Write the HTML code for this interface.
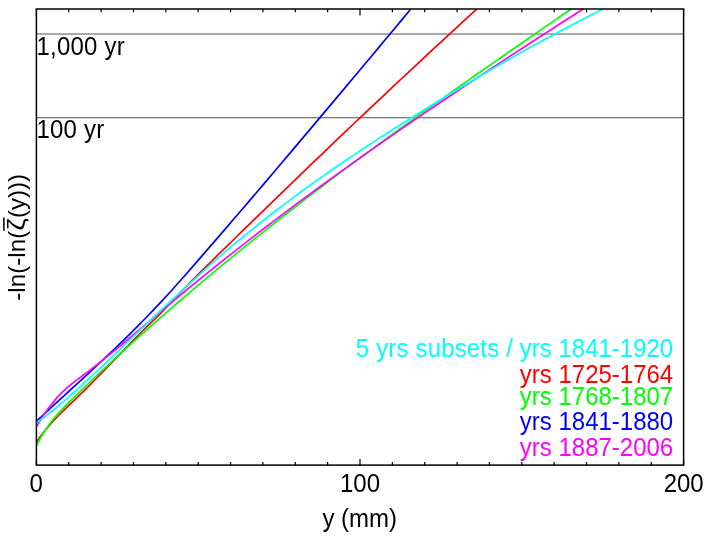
<!DOCTYPE html>
<html><head><meta charset="utf-8"><title>plot</title>
<style>
html,body{margin:0;padding:0;background:#fff;}
body{width:708px;height:536px;overflow:hidden;}
svg{display:block;will-change:transform;}
text{font-family:"Liberation Sans",sans-serif;font-size:24px;}
</style></head><body>
<svg width="708" height="536" viewBox="0 0 708 536">
<rect width="708" height="536" fill="#fff"/>
<line x1="36.4" y1="34.03" x2="683.6" y2="34.03" stroke="#000" stroke-width="0.68"/>
<line x1="36.4" y1="117.76" x2="683.6" y2="117.76" stroke="#000" stroke-width="0.68"/>
<text transform="translate(36.5,54.7) scale(1,1.05)" text-anchor="start" fill="#000" xml:space="preserve" letter-spacing="0.22">1,000 yr</text>
<text transform="translate(36.5,137.7) scale(1,1.05)" text-anchor="start" fill="#000" xml:space="preserve" letter-spacing="0.22">100 yr</text>
<g fill="none" stroke-width="1.7" stroke-linejoin="round">
<path stroke="#ff0000" d="M36.50,442.04 L38.00,439.87 L39.50,437.77 L41.00,435.74 L42.50,433.76 L44.00,431.83 L45.50,429.96 L47.00,428.14 L48.50,426.37 L50.00,424.63 L51.50,422.94 L53.00,421.29 L54.50,419.67 L56.00,418.09 L57.50,416.53 L59.00,415.00 L60.00,413.99 L64.00,410.05 L68.00,406.20 L72.00,402.39 L76.00,398.56 L80.00,394.69 L84.00,390.77 L88.00,386.80 L92.00,382.80 L96.00,378.77 L100.00,374.70 L104.00,370.61 L108.00,366.49 L112.00,362.36 L116.00,358.20 L120.00,354.04 L124.00,349.87 L128.00,345.72 L130.00,343.65 L138.00,335.49 L146.00,327.62 L154.00,319.99 L162.00,311.93 L170.00,303.44 L178.00,295.02 L186.00,286.78 L194.00,278.70 L202.00,270.72 L210.00,262.83 L218.00,254.96 L226.00,247.10 L234.00,239.26 L242.00,231.44 L250.00,223.63 L258.00,215.83 L266.00,208.05 L274.00,200.29 L282.00,192.54 L290.00,184.80 L298.00,177.08 L306.00,169.38 L314.00,161.69 L322.00,154.02 L330.00,146.36 L338.00,138.73 L346.00,131.11 L354.00,123.50 L362.00,115.91 L370.00,108.35 L378.00,100.79 L386.00,93.26 L394.00,85.74 L402.00,78.25 L410.00,70.77 L418.00,63.31 L426.00,55.87 L434.00,48.44 L442.00,41.04 L450.00,33.66 L458.00,26.29 L466.00,18.95 L474.00,11.63 L476.80,9.07"/>
<path stroke="#00ff00" d="M36.50,445.77 L38.00,442.76 L39.50,439.92 L41.00,437.22 L42.50,434.65 L44.00,432.21 L45.50,429.89 L47.00,427.67 L48.50,425.56 L50.00,423.52 L51.50,421.57 L53.00,419.68 L54.50,417.86 L56.00,416.09 L57.50,414.37 L59.00,412.69 L60.00,411.60 L64.00,407.38 L68.00,403.35 L72.00,399.43 L76.00,395.54 L80.00,391.68 L84.00,387.83 L88.00,384.00 L92.00,380.19 L96.00,376.40 L100.00,372.63 L104.00,368.88 L108.00,365.14 L112.00,361.42 L116.00,357.73 L120.00,354.05 L124.00,350.38 L128.00,346.74 L130.00,344.92 L138.00,337.69 L146.00,330.53 L154.00,323.43 L162.00,316.40 L170.00,309.42 L178.00,302.50 L186.00,295.64 L194.00,288.83 L202.00,282.08 L210.00,275.37 L218.00,268.72 L226.00,262.13 L234.00,255.57 L242.00,249.07 L250.00,242.62 L258.00,236.21 L266.00,229.84 L274.00,223.52 L282.00,217.25 L290.00,211.01 L298.00,204.81 L306.00,198.65 L314.00,192.53 L322.00,186.45 L330.00,180.40 L338.00,174.39 L346.00,168.41 L354.00,162.46 L362.00,156.54 L370.00,150.66 L378.00,144.80 L386.00,138.97 L394.00,133.16 L402.00,127.38 L410.00,121.63 L418.00,115.89 L426.00,110.18 L434.00,104.49 L442.00,98.82 L450.00,93.17 L458.00,87.54 L466.00,81.92 L474.00,76.31 L482.00,70.72 L490.00,65.14 L498.00,59.58 L506.00,54.02 L514.00,48.47 L522.00,42.93 L530.00,37.40 L538.00,31.88 L546.00,26.35 L554.00,20.84 L562.00,15.32 L570.00,9.80 L571.60,8.70"/>
<path stroke="#0000ff" d="M36.50,421.22 L38.00,419.81 L39.50,418.40 L41.00,417.00 L42.50,415.60 L44.00,414.20 L45.50,412.81 L47.00,411.42 L48.50,410.03 L50.00,408.64 L51.50,407.25 L53.00,405.87 L54.50,404.49 L56.00,403.11 L57.50,401.73 L59.00,400.35 L60.00,399.44 L64.00,395.77 L68.00,392.11 L72.00,388.45 L76.00,384.79 L80.00,381.13 L84.00,377.46 L88.00,373.78 L92.00,370.09 L96.00,366.38 L100.00,362.66 L104.00,358.91 L108.00,355.14 L112.00,351.35 L116.00,347.53 L120.00,343.67 L124.00,339.79 L128.00,335.87 L130.00,333.89 L138.00,325.91 L146.00,317.76 L154.00,309.44 L162.00,300.93 L170.00,292.21 L178.00,283.30 L186.00,274.25 L194.00,265.09 L202.00,255.88 L210.00,246.65 L218.00,237.39 L226.00,228.10 L234.00,218.80 L242.00,209.47 L250.00,200.12 L258.00,190.75 L266.00,181.36 L274.00,171.95 L282.00,162.53 L290.00,153.08 L298.00,143.63 L306.00,134.15 L314.00,124.67 L322.00,115.17 L330.00,105.65 L338.00,96.13 L346.00,86.59 L354.00,77.04 L362.00,67.49 L370.00,57.93 L378.00,48.35 L386.00,38.78 L394.00,29.19 L402.00,19.60 L410.00,10.01 L410.70,9.17"/>
<path stroke="#ff00ff" d="M36.50,426.57 L38.00,424.05 L39.50,421.59 L41.00,419.21 L42.50,416.88 L44.00,414.63 L45.50,412.43 L47.00,410.31 L48.50,408.24 L50.00,406.24 L51.50,404.30 L53.00,402.43 L54.50,400.62 L56.00,398.87 L57.50,397.18 L59.00,395.55 L60.00,394.50 L64.00,390.55 L68.00,386.97 L72.00,383.68 L76.00,380.59 L80.00,377.61 L84.00,374.66 L88.00,371.66 L92.00,368.61 L96.00,365.52 L100.00,362.37 L104.00,359.18 L108.00,355.96 L112.00,352.70 L116.00,349.40 L120.00,346.08 L124.00,342.74 L128.00,339.37 L130.00,337.68 L138.00,330.90 L146.00,324.09 L154.00,317.28 L162.00,310.50 L170.00,303.77 L178.00,297.10 L186.00,290.48 L194.00,283.92 L202.00,277.40 L210.00,270.94 L218.00,264.53 L226.00,258.16 L234.00,251.84 L242.00,245.57 L250.00,239.35 L258.00,233.17 L266.00,227.03 L274.00,220.94 L282.00,214.89 L290.00,208.88 L298.00,202.91 L306.00,196.98 L314.00,191.09 L322.00,185.24 L330.00,179.42 L338.00,173.64 L346.00,167.89 L354.00,162.18 L362.00,156.50 L370.00,150.85 L378.00,145.24 L386.00,139.65 L394.00,134.09 L402.00,128.57 L410.00,123.06 L418.00,117.59 L426.00,112.14 L434.00,106.72 L442.00,101.32 L450.00,95.94 L458.00,90.59 L466.00,85.25 L474.00,79.94 L482.00,74.64 L490.00,69.37 L498.00,64.11 L506.00,58.86 L514.00,53.64 L522.00,48.43 L530.00,43.23 L538.00,38.04 L546.00,32.87 L554.00,27.70 L562.00,22.55 L570.00,17.41 L578.00,12.27 L583.50,8.74"/>
<path stroke="#00ffff" d="M36.50,422.83 L38.00,421.76 L39.50,420.68 L41.00,419.59 L42.50,418.48 L44.00,417.35 L45.50,416.20 L47.00,415.05 L48.50,413.87 L50.00,412.69 L51.50,411.49 L53.00,410.28 L54.50,409.05 L56.00,407.81 L57.50,406.57 L59.00,405.31 L60.00,404.46 L64.00,401.04 L68.00,397.55 L72.00,394.00 L76.00,390.41 L80.00,386.77 L84.00,383.11 L88.00,379.43 L92.00,375.72 L96.00,372.00 L100.00,368.26 L104.00,364.50 L108.00,360.73 L112.00,356.95 L116.00,353.16 L120.00,349.36 L124.00,345.55 L128.00,341.74 L130.00,339.83 L138.00,332.20 L146.00,324.57 L154.00,316.95 L162.00,309.35 L170.00,301.80 L178.00,294.31 L186.00,286.88 L194.00,279.53 L202.00,272.27 L210.00,265.12 L218.00,258.09 L226.00,251.18 L234.00,244.40 L242.00,237.74 L250.00,231.20 L258.00,224.76 L266.00,218.44 L274.00,212.22 L282.00,206.10 L290.00,200.08 L298.00,194.15 L306.00,188.30 L314.00,182.55 L322.00,176.87 L330.00,171.28 L338.00,165.75 L346.00,160.30 L354.00,154.91 L362.00,149.58 L370.00,144.31 L378.00,139.10 L386.00,133.93 L394.00,128.81 L402.00,123.73 L410.00,118.70 L418.00,113.69 L426.00,108.73 L434.00,103.79 L442.00,98.90 L450.00,94.04 L458.00,89.22 L466.00,84.43 L474.00,79.69 L482.00,74.98 L490.00,70.32 L498.00,65.69 L506.00,61.11 L514.00,56.57 L522.00,52.07 L530.00,47.61 L538.00,43.19 L546.00,38.82 L554.00,34.50 L562.00,30.22 L570.00,25.98 L578.00,21.79 L586.00,17.65 L594.00,13.56 L602.00,9.51 L602.70,9.16"/>
</g>
<path d="M36.40,465.15 V459.0 M36.40,9.0 V15.4 M68.76,465.15 V462.0 M68.76,9.0 V12.2 M101.12,465.15 V462.0 M101.12,9.0 V12.2 M133.48,465.15 V462.0 M133.48,9.0 V12.2 M165.84,465.15 V462.0 M165.84,9.0 V12.2 M198.20,465.15 V462.0 M198.20,9.0 V12.2 M230.56,465.15 V462.0 M230.56,9.0 V12.2 M262.92,465.15 V462.0 M262.92,9.0 V12.2 M295.28,465.15 V462.0 M295.28,9.0 V12.2 M327.64,465.15 V462.0 M327.64,9.0 V12.2 M360.00,465.15 V459.0 M360.00,9.0 V15.4 M392.36,465.15 V462.0 M392.36,9.0 V12.2 M424.72,465.15 V462.0 M424.72,9.0 V12.2 M457.08,465.15 V462.0 M457.08,9.0 V12.2 M489.44,465.15 V462.0 M489.44,9.0 V12.2 M521.80,465.15 V462.0 M521.80,9.0 V12.2 M554.16,465.15 V462.0 M554.16,9.0 V12.2 M586.52,465.15 V462.0 M586.52,9.0 V12.2 M618.88,465.15 V462.0 M618.88,9.0 V12.2 M651.24,465.15 V462.0 M651.24,9.0 V12.2 M683.60,465.15 V459.0 M683.60,9.0 V15.4" stroke="#000" stroke-width="1.2" fill="none"/>
<rect x="36.4" y="9.0" width="647.2" height="456.1" fill="none" stroke="#000" stroke-width="1.5"/>
<text transform="translate(673.2,357.2) scale(1,1.05)" text-anchor="end" fill="#00ffff" xml:space="preserve"><tspan letter-spacing="0.17">5 yrs subsets / </tspan>yrs 1841-1920</text>
<text transform="translate(673.2,383.2) scale(1,1.05)" text-anchor="end" fill="#ff0000" xml:space="preserve">yrs 1725-1764</text>
<text transform="translate(673.2,404.7) scale(1,1.05)" text-anchor="end" fill="#00ff00" xml:space="preserve">yrs 1768-1807</text>
<text transform="translate(673.2,430.2) scale(1,1.05)" text-anchor="end" fill="#0000ff" xml:space="preserve">yrs 1841-1880</text>
<text transform="translate(673.2,455.7) scale(1,1.05)" text-anchor="end" fill="#ff00ff" xml:space="preserve">yrs 1887-2006</text>
<text transform="translate(36.2,491.5) scale(1,1.05)" text-anchor="middle" fill="#000" xml:space="preserve">0</text>
<text transform="translate(360.0,491.5) scale(1,1.05)" text-anchor="middle" fill="#000" xml:space="preserve">100</text>
<text transform="translate(683.7,491.5) scale(1,1.05)" text-anchor="middle" fill="#000" xml:space="preserve">200</text>
<text transform="translate(359.7,527.2) scale(1,1.05)" text-anchor="middle" fill="#000" xml:space="preserve">y (mm)</text>
<text transform="translate(24.8,300.8) rotate(-90) scale(1,1.03)" text-anchor="start" fill="#000" xml:space="preserve"><tspan letter-spacing="0.1">-ln(-ln(</tspan><tspan textLength="12.6" lengthAdjust="spacingAndGlyphs">&#950;</tspan><tspan letter-spacing="0.0">(y)))</tspan></text>
<line x1="3.9" y1="217.6" x2="3.9" y2="230.7" stroke="#000" stroke-width="1.5"/>
</svg></body></html>
